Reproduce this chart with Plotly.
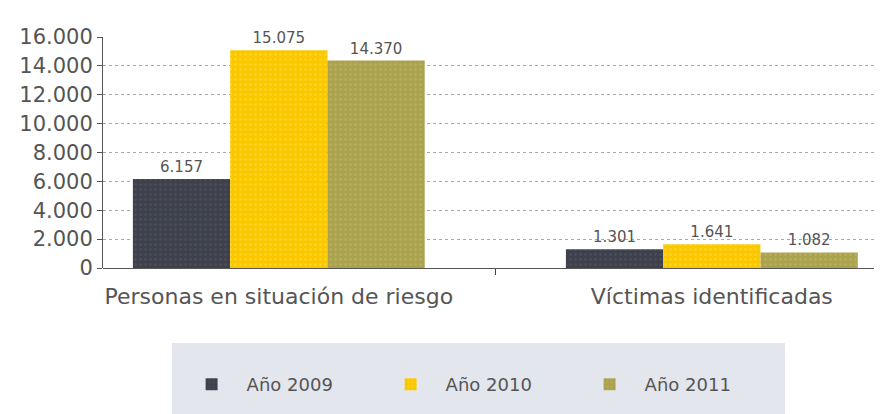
import plotly.graph_objects as go

categories = ["Personas en situación de riesgo", "Víctimas identificadas"]
series_names = ["Año 2009", "Año 2010", "Año 2011"]
values_2009 = [6157, 1301]
values_2010 = [15075, 1641]
values_2011 = [14370, 1082]
y_ticks = [0, 2000, 4000, 6000, 8000, 10000, 12000, 14000, 16000]

colors = ["#3e414b", "#fbc800", "#aaa24e"]
pattern_fg = ["#575b67", "#ffe050", "#c6be6c"]
FONT = "DejaVu Sans, Verdana, sans-serif"

fig = go.Figure()
for name, vals, c, pf in zip(series_names, [values_2009, values_2010, values_2011], colors, pattern_fg):
    fig.add_trace(go.Bar(
        x=categories, y=vals, name=name,
        marker=dict(color=c, line=dict(width=0),
                    pattern=dict(shape=".", fgcolor=pf, size=5, solidity=0.2)),
        texttemplate="%{y:,}", textposition="outside",
        textfont=dict(size=15, color="#555555", family=FONT),
        cliponaxis=False,
    ))

# dotted legend background panel
fig.add_shape(type="rect", xref="paper", yref="paper",
              x0=0.0886, x1=0.8755, y0=-0.70, y1=-0.325,
              fillcolor="#e4e6ee", line=dict(width=0), layer="below")

fig.update_layout(
    width=882, height=414,
    margin=dict(l=95, r=8, t=29, b=154, autoexpand=False),
    paper_bgcolor="white", plot_bgcolor="white",
    separators=",.",
    font=dict(family=FONT, color="#555555"),
    barmode="group", bargap=0.326, bargroupgap=0,
    showlegend=True,
    legend=dict(orientation="h", x=0.0945, xanchor="left", y=-0.505, yanchor="middle",
                bgcolor="rgba(0,0,0,0)", font=dict(size=18, color="#555555", family=FONT),
                entrywidth=124, itemwidth=60),
    xaxis=dict(range=[-0.406, 1.393], showgrid=False, ticks="outside", ticklen=6,
               tickcolor="#444444", showline=False, automargin=False,
               ticklabelstandoff=13,
               tickfont=dict(size=22, color="#555555", family=FONT), tickson="boundaries"),
    yaxis=dict(range=[0, 16000], tickvals=y_ticks, tickformat=",", automargin=False,
               showgrid=True, gridcolor="#a8a8a8", gridwidth=1, griddash="dot",
               showline=True, linecolor="#555555", linewidth=1,
               ticks="outside", ticklen=5, tickcolor="#555555",
               zeroline=True, zerolinecolor="#555555", zerolinewidth=1,
               tickfont=dict(size=21, color="#555555", family=FONT)),
)

fig.write_html("out.html")
